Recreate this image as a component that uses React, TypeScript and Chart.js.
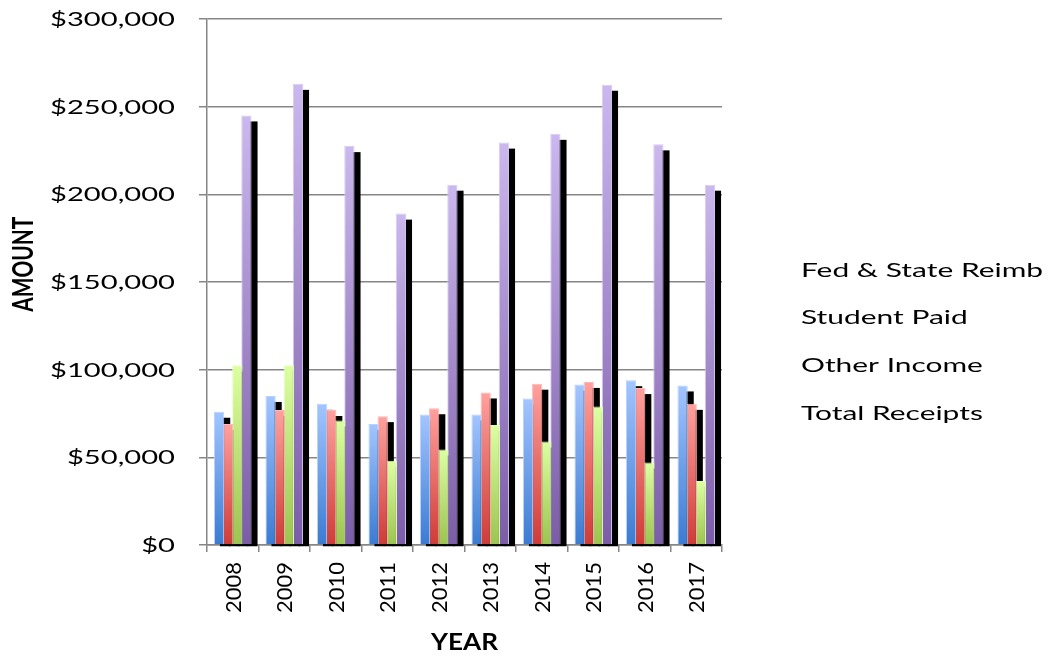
import React, { useEffect, useRef } from "react";
import { Chart, registerables } from "chart.js";

Chart.register(...registerables);

// ---------- data ----------
const years = ["2008", "2009", "2010", "2011", "2012", "2013", "2014", "2015", "2016", "2017"];
const seriesNames = ["Fed & State Reimb", "Student Paid", "Other Income", "Total Receipts"];
const fedStateReimb = [76000, 85000, 80500, 69000, 74500, 74500, 83500, 91500, 94000, 91000];
const studentPaid = [69000, 77000, 77000, 73500, 78000, 87000, 92000, 93000, 89500, 80500];
const otherIncome = [102500, 102500, 71000, 48000, 54500, 68500, 59000, 79000, 47000, 36500];
const totalReceipts = [245000, 263000, 227500, 189000, 205500, 229500, 234500, 262500, 228500, 205500];
const yMin = 0;
const yMax = 300000;
const yStep = 50000;
const xTitle = "YEAR";
const yTitle = "AMOUNT";

// ---------- styles ----------
const topColors = ["#a3c5ff", "#ffa19e", "#dcffa2", "#cbb8ee"];
const bottomColors = ["#3a7bd2", "#cf3b37", "#9cc44f", "#7b5ca8"];
const borderColors = ["#b7d2ff", "#ffb8b6", "#e6ffbf", "#d9cbf3"];
const GRID = "#868686";
const FONT = "Lato";
const SHADOW_DX = 6;
const SHADOW_DY = 6;

const seriesValues = [fedStateReimb, studentPaid, otherIncome, totalReceipts];

const money = (v: number) => "$" + v.toLocaleString("en-US");

function barGradient(c: any, si: number) {
  const chart = c.chart;
  const ys = chart.scales ? chart.scales.y : undefined;
  if (c.type !== "data" || !ys || !chart.chartArea || typeof c.raw !== "number") return topColors[si];
  const top = ys.getPixelForValue(c.raw);
  const bot = ys.getPixelForValue(0);
  const g = chart.ctx.createLinearGradient(0, top, 0, bot);
  g.addColorStop(0, topColors[si]);
  g.addColorStop(1, bottomColors[si]);
  return g;
}

const shadowPlugin = {
  id: "barShadow",
  beforeDatasetsDraw(chart: any) {
    const ctx = chart.ctx;
    ctx.save();
    ctx.fillStyle = "#000";
    chart.data.datasets.forEach((_: any, i: number) => {
      const meta = chart.getDatasetMeta(i);
      meta.data.forEach((bar: any) => {
        const p = bar.getProps(["x", "y", "base", "width"], true);
        ctx.fillRect(p.x - p.width / 2 + SHADOW_DX, p.y + SHADOW_DY, p.width, p.base - p.y - SHADOW_DY + 2);
      });
    });
    ctx.restore();
  },
};

const CAP = 0.7165;

const textPlugin = {
  id: "stretchText",
  afterDraw(chart: any) {
    const ctx = chart.ctx;
    const xs = chart.scales.x;
    const ys = chart.scales.y;
    const area = chart.chartArea;
    ctx.save();
    ctx.fillStyle = "#000";
    ctx.textBaseline = "alphabetic";

    // y tick labels (horizontally stretched)
    const ySize = 19.5;
    ctx.font = `${ySize}px ${FONT}`;
    const sxY = 125 / ctx.measureText(money(yMax)).width;
    ys.ticks.forEach((t: any) => {
      const py = ys.getPixelForValue(t.value);
      ctx.save();
      ctx.translate(175, py);
      ctx.scale(sxY, 1);
      ctx.textAlign = "right";
      ctx.fillText(money(t.value), 0, (ySize * CAP) / 2);
      ctx.restore();
    });

    // x tick labels (rotated)
    const xSize = 22;
    ctx.font = `${xSize}px ${FONT}`;
    years.forEach((lab, i) => {
      const px = xs.getPixelForValue(i);
      ctx.save();
      ctx.translate(px, area.bottom + 17);
      ctx.rotate(-Math.PI / 2);
      ctx.textAlign = "right";
      ctx.fillText(lab, 0, (xSize * CAP) / 2);
      ctx.restore();
    });

    // x title
    const tSize = 23;
    ctx.font = `bold ${tSize}px ${FONT}`;
    const sxT = 67 / ctx.measureText(xTitle).width;
    ctx.save();
    ctx.translate((area.left + area.right) / 2, 641.7);
    ctx.scale(sxT, 1);
    ctx.textAlign = "center";
    ctx.fillText(xTitle, 0, (tSize * CAP) / 2);
    ctx.restore();

    // y title (rotated, stretched across)
    ctx.font = `bold 21px ${FONT}`;
    const aSize = (21 * 95) / ctx.measureText(yTitle).width;
    ctx.font = `bold ${aSize}px ${FONT}`;
    const sxA = 20 / (aSize * CAP);
    ctx.save();
    ctx.translate(23.3, 264.2);
    ctx.scale(sxA, 1);
    ctx.rotate(-Math.PI / 2);
    ctx.textAlign = "center";
    ctx.fillText(yTitle, 0, (aSize * CAP) / 2);
    ctx.restore();

    // legend (text only)
    const lSize = 19;
    ctx.font = `${lSize}px ${FONT}`;
    const sxL = 242 / ctx.measureText(seriesNames[0]).width;
    seriesNames.forEach((name, i) => {
      ctx.save();
      ctx.translate(801, 269.7 + i * 47.9);
      ctx.scale(sxL, 1);
      ctx.textAlign = "left";
      ctx.fillText(name, 0, (lSize * CAP) / 2);
      ctx.restore();
    });

    ctx.restore();
  },
};

export default function App() {
  const ref = useRef<HTMLCanvasElement | null>(null);

  useEffect(() => {
    if (!ref.current) return;
    const chart = new Chart(ref.current, {
      type: "bar",
      data: {
        labels: years,
        datasets: seriesNames.map((name, si) => ({
          label: name,
          data: seriesValues[si],
          backgroundColor: (c: any) => barGradient(c, si),
          borderColor: borderColors[si],
          borderWidth: 1,
          barPercentage: 1.13,
          categoryPercentage: 0.707,
        })),
      },
      options: {
        responsive: false,
        animation: false,
        devicePixelRatio: 1,
        layout: { padding: { left: 0, right: 326, top: 19, bottom: 0 } },
        plugins: { legend: { display: false }, tooltip: { enabled: false } },
        scales: {
          x: {
            offset: true,
            grid: { display: true, drawOnChartArea: false, drawTicks: true, tickLength: 7, color: GRID, lineWidth: 1.5, offset: true },
            border: { display: true, color: GRID, width: 1.5 },
            ticks: { display: false },
            afterFit: (s: any) => {
              s.height = 111;
            },
          },
          y: {
            min: yMin,
            max: yMax,
            ticks: { stepSize: yStep, display: false },
            grid: { color: GRID, lineWidth: 1.5, tickLength: 8 },
            border: { display: true, color: GRID, width: 1.5 },
            afterFit: (s: any) => {
              s.width = 207;
            },
          },
        },
      } as any,
      plugins: [shadowPlugin, textPlugin],
    });
    return () => chart.destroy();
  }, []);

  return (
    <div style={{ position: "fixed", left: 0, top: 0, width: 1048, height: 656, background: "#fff" }}>
      <canvas ref={ref} width={1048} height={656} style={{ display: "block" }} />
    </div>
  );
}
